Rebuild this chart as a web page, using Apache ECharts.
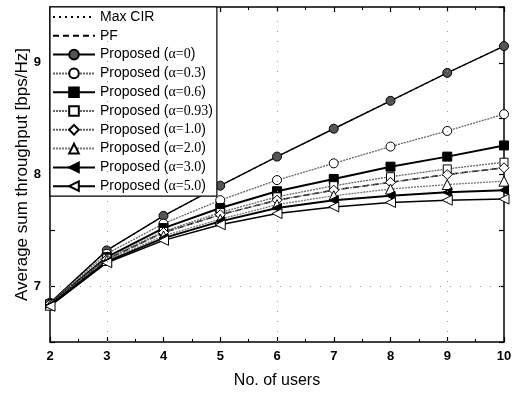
<!DOCTYPE html>
<html>
<head>
<meta charset="utf-8">
<script src="https://cdn.jsdelivr.net/npm/echarts@6/dist/echarts.min.js"></script>
<style>
  html, body { margin: 0; padding: 0; background: #fff; }
  #chart { width: 521px; height: 394px; }
</style>
</head>
<body>
<div id="chart"></div>
<script>
const users = [2, 3, 4, 5, 6, 7, 8, 9, 10]
const yTicks = [7, 8, 9]

// Max CIR / PF sit under the alpha=0 / alpha=1.0 curves
const maxCir = [6.85, 7.32, 7.63, 7.90, 8.16, 8.41, 8.66, 8.91, 9.15]
const pf = [6.84, 7.24, 7.48, 7.64, 7.77, 7.86, 7.93, 8.00, 8.06]
const alpha0 = [6.85, 7.32, 7.63, 7.90, 8.16, 8.41, 8.66, 8.91, 9.15]
const alpha03 = [6.85, 7.29, 7.56, 7.77, 7.95, 8.10, 8.25, 8.39, 8.54]
const alpha06 = [6.84, 7.26, 7.52, 7.70, 7.85, 7.96, 8.07, 8.16, 8.26]
const alpha093 = [6.84, 7.25, 7.49, 7.66, 7.80, 7.90, 7.98, 8.05, 8.11]
const alpha1 = [6.84, 7.24, 7.48, 7.64, 7.77, 7.86, 7.93, 8.00, 8.06]
const alpha2 = [6.83, 7.23, 7.45, 7.60, 7.73, 7.81, 7.87, 7.91, 7.94]
const alpha3 = [6.83, 7.22, 7.43, 7.58, 7.70, 7.77, 7.81, 7.84, 7.86]
const alpha5 = [6.82, 7.21, 7.41, 7.55, 7.65, 7.71, 7.75, 7.77, 7.78]

const pairs = vals => users.map((u, i) => [u, vals[i]])

function line(name, vals, opt) {
  return {
    name: name,
    type: 'line',
    data: pairs(vals),
    symbol: opt.symbol || 'none',
    symbolSize: opt.size || 8,
    symbolRotate: opt.rotate || 0,
    z: opt.z || 2,
    lineStyle: { color: opt.color || '#000', width: opt.width || 1.5, type: opt.type || 'solid' },
    itemStyle: { color: opt.fill || '#000', borderColor: '#000', borderWidth: 1 }
  }
}

const chart = echarts.init(document.getElementById('chart'))

const axisCommon = {
  type: 'value',
  axisLine: { show: true, onZero: false, lineStyle: { color: '#000', width: 1.5 } },
  axisTick: { show: true, inside: true, length: 5, lineStyle: { color: '#000', width: 1.2 } },
  splitLine: { show: false }
}

const legendNames = ['Max CIR', 'PF', 'Proposed (α=0)', 'Proposed (α=0.3)', 'Proposed (α=0.6)',
  'Proposed (α=0.93)', 'Proposed (α=1.0)', 'Proposed (α=2.0)', 'Proposed (α=3.0)', 'Proposed (α=5.0)']

chart.setOption({
  animation: false,
  backgroundColor: '#fff',
  textStyle: { fontFamily: 'Liberation Sans' },
  grid: { left: 50, right: 17, top: 7, bottom: 50 },
  legend: {
    orient: 'vertical',
    left: 50,
    top: 7,
    itemWidth: 42,
    itemHeight: 12,
    itemGap: 4.8,
    padding: [3, 4, 3, 2],
    backgroundColor: '#fff',
    borderColor: '#000',
    borderWidth: 1.2,
    textStyle: {
      fontSize: 14,
      lineHeight: 14,
      color: '#000',
      rich: { s: { fontFamily: 'Liberation Serif', fontSize: 14, lineHeight: 14, color: '#000' } }
    },
    formatter: name => name.replace(/\((.*)\)/, '({s|$1})'),
    data: legendNames.map((n, i) => (i < 2 ? { name: n, itemStyle: { opacity: 0 } } : n))
  },
  xAxis: [
    Object.assign({}, axisCommon, {
      min: 2, max: 10, interval: 1,
      name: 'No. of users',
      nameLocation: 'middle',
      nameGap: 31,
      nameMoveOverlap: false,
      nameTextStyle: { fontSize: 16, color: '#000' },
      minorTick: { show: true, splitNumber: 2, length: 3, lineStyle: { color: '#000' } },
      axisLabel: { fontSize: 13, fontWeight: 'bold', color: '#000', margin: 8 }
    }),
    Object.assign({}, axisCommon, {
      position: 'top',
      min: 2, max: 10, interval: 1,
      minorTick: { show: true, splitNumber: 2, length: 3, lineStyle: { color: '#000' } },
      axisLabel: { show: false }
    })
  ],
  yAxis: [
    Object.assign({}, axisCommon, {
      min: 6.5, max: 9.5, interval: 0.5,
      name: 'Average sum throughput [bps/Hz]',
      nameLocation: 'middle',
      nameGap: 19,
      nameMoveOverlap: false,
      nameTextStyle: { fontSize: 17, color: '#000' },
      axisLabel: {
        fontSize: 13, fontWeight: 'bold', color: '#000', margin: 9,
        formatter: v => (yTicks.indexOf(v) >= 0 ? String(v) : '')
      }
    }),
    Object.assign({}, axisCommon, {
      position: 'right',
      min: 6.5, max: 9.5, interval: 0.5,
      axisLabel: { show: false }
    })
  ],
  series: [
    Object.assign(line('Max CIR', maxCir, { type: [2, 4], width: 1.2, z: 1 }), {
      markLine: {
        silent: true,
        symbol: 'none',
        label: { show: false },
        lineStyle: { color: '#999', type: [1, 9], width: 1 },
        data: [{ xAxis: 3 }, { xAxis: 6 }, { xAxis: 9 }, { yAxis: 7 }]
      }
    }),
    line('PF', pf, { type: [6, 4], width: 1.5, z: 1 }),
    line('Proposed (α=0)', alpha0, { symbol: 'circle', size: 9, fill: '#555', width: 1.5 }),
    line('Proposed (α=0.3)', alpha03, { symbol: 'circle', size: 9, fill: '#fff', color: '#666', type: [2, 1], width: 1.3 }),
    line('Proposed (α=0.6)', alpha06, { symbol: 'rect', size: 9, fill: '#000', width: 2 }),
    line('Proposed (α=0.93)', alpha093, { symbol: 'rect', size: 8, fill: '#fff', color: '#666', type: [2, 1], width: 1.3 }),
    line('Proposed (α=1.0)', alpha1, { symbol: 'diamond', size: 10, fill: '#fff', color: '#666', type: [2, 1], width: 1.3 }),
    line('Proposed (α=2.0)', alpha2, { symbol: 'triangle', size: 10, fill: '#fff', color: '#777', type: [2, 1], width: 1.3 }),
    line('Proposed (α=3.0)', alpha3, { symbol: 'triangle', rotate: 90, size: 9, fill: '#000', width: 2 }),
    line('Proposed (α=5.0)', alpha5, { symbol: 'triangle', rotate: 90, size: 10, fill: '#fff', width: 1.5 })
  ]
})
</script>
</body>
</html>
